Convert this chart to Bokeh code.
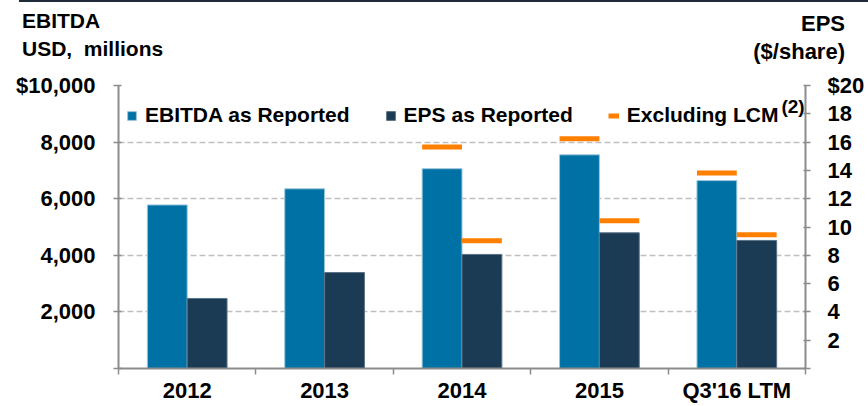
import numpy as np
from bokeh.plotting import figure
from bokeh.layouts import column
from bokeh.models import (Range1d, LinearAxis, FixedTicker, Legend, LegendItem,
                          Label, ColumnDataSource, Div)
from bokeh.transform import dodge
from bokeh.embed import file_html
from bokeh.resources import INLINE

# ---------------- data ----------------
categories = ["2012", "2013", "2014", "2015", "Q3'16 LTM"]
ebitda_reported = [5780, 6350, 7060, 7550, 6640]          # USD millions
ebitda_ex_lcm = [None, None, 7830, 8120, 6910]            # USD millions
eps_reported = [4.95, 6.78, 8.06, 9.59, 9.05]             # $/share
eps_ex_lcm = [None, None, 9.02, 10.44, 9.45]              # $/share

left_ticks = [0, 2000, 4000, 6000, 8000, 10000]
left_tick_labels = ["", "2,000", "4,000", "6,000", "8,000", "$10,000"]
right_ticks = [0, 2, 4, 6, 8, 10, 12, 14, 16, 18, 20]
right_tick_labels = ["", "2", "4", "6", "8", "10", "12", "14", "16", "18", "$20"]

series_names = ["EBITDA as Reported", "EPS as Reported", "Excluding LCM"]
footnote = "(2)"
left_title = ["EBITDA", "USD,  millions"]
right_title = ["EPS", "($/share)"]

# ---------------- style ----------------
FONT = "Liberation Sans"
C_EBITDA = "#0071A4"
C_EPS = "#1B3A53"
C_ORANGE = "#FF7F00"
C_AXIS = "#8C8C8C"
C_GRID = "#C0C0C0"
W = 868
HEAD_H = 70
MAIN_H = 406 - HEAD_H

# ---------------- header (titles) ----------------
def t(txt, top, size, side, pos):
    return (f'<div style="position:absolute;{side}:{pos}px;top:{top}px;'
            f'font-size:{size}px;line-height:{size}px;white-space:pre;">{txt}</div>')

head_html = (
    f'<div style="position:relative;width:{W}px;height:{HEAD_H}px;'
    f'font-family:\'{FONT}\';font-weight:bold;color:#000;overflow:hidden;">'
    f'<div style="position:absolute;left:19px;right:0;top:0;height:2px;background:#1F2B38;"></div>'
    + t(left_title[0], 10, 21, "left", 22)
    + t(left_title[1], 38, 21, "left", 22)
    + t(right_title[0], 13, 22, "right", 23)
    + t(right_title[1], 41, 22, "right", 23)
    + '</div>'
)
head = Div(text=head_html, width=W, height=HEAD_H, margin=0)

# ---------------- main chart ----------------
src = ColumnDataSource(dict(
    xc=[i + 0.5 for i in range(len(categories))],
    cat=categories,
    ebitda=ebitda_reported,
    ebitda_ex=np.array(ebitda_ex_lcm, dtype=float),
    eps=eps_reported,
    eps_ex=np.array(eps_ex_lcm, dtype=float),
))

p = figure(width=W, height=MAIN_H, output_backend="svg", toolbar_location=None,
           x_range=Range1d(0, len(categories)), y_range=Range1d(0, 10000),
           min_border_left=118, min_border_right=63, min_border_top=15,
           min_border_bottom=38, margin=0)
p.outline_line_color = None
p.background_fill_color = "white"
p.border_fill_color = "white"
p.extra_y_ranges = {"eps": Range1d(0, 20)}

# grid
p.xgrid.visible = False
p.ygrid.ticker = FixedTicker(ticks=left_ticks[1:])
p.ygrid.grid_line_color = C_GRID
p.ygrid.grid_line_dash = "6 3"
p.ygrid.grid_line_width = 1.5

# x axis: labels at category centres, ticks at category boundaries
xa = p.xaxis[0]
centres = [i + 0.5 for i in range(len(categories))]
xa.ticker = FixedTicker(ticks=centres, minor_ticks=list(range(len(categories) + 1)))
xa.major_label_overrides = {c: s for c, s in zip(centres, categories)}
xa.major_label_text_font = FONT
xa.major_label_text_font_size = "22px"
xa.major_label_text_font_style = "bold"
xa.major_label_text_color = "black"
xa.major_label_standoff = 3
xa.major_tick_out = 0
xa.major_tick_in = 0
xa.major_tick_line_color = None
xa.minor_tick_out = 6
xa.minor_tick_in = 0
xa.minor_tick_line_color = C_AXIS
xa.minor_tick_line_width = 1.5
xa.axis_line_color = C_AXIS
xa.axis_line_width = 2

# left axis
ya = p.yaxis[0]
ya.ticker = FixedTicker(ticks=left_ticks)
ya.major_label_overrides = {t_: s for t_, s in zip(left_ticks, left_tick_labels)}
ya.major_label_text_font = FONT
ya.major_label_text_font_size = "22px"
ya.major_label_text_font_style = "bold"
ya.major_label_text_color = "black"
ya.major_label_standoff = 18
ya.major_tick_out = 5
ya.major_tick_in = 3
ya.minor_tick_line_color = None
ya.axis_line_color = C_AXIS
ya.axis_line_width = 2
ya.major_tick_line_color = C_AXIS
ya.major_tick_line_width = 1.5

# right axis
ra = LinearAxis(y_range_name="eps")
ra.ticker = FixedTicker(ticks=right_ticks)
ra.major_label_overrides = {t_: s for t_, s in zip(right_ticks, right_tick_labels)}
ra.major_label_text_font = FONT
ra.major_label_text_font_size = "22px"
ra.major_label_text_font_style = "bold"
ra.major_label_text_color = "black"
ra.major_label_standoff = 17
ra.major_tick_out = 5
ra.major_tick_in = 2
ra.minor_tick_line_color = None
ra.axis_line_color = C_AXIS
ra.axis_line_width = 2
ra.major_tick_line_color = C_AXIS
ra.major_tick_line_width = 1.5
p.add_layout(ra, "right")

# bars
BW = 0.29
r_ebitda = p.vbar(x=dodge("xc", -BW / 2), top="ebitda", width=BW, source=src,
                  fill_color=C_EBITDA, line_color="#9CC6DC", line_width=1)
r_eps = p.vbar(x=dodge("xc", BW / 2), top="eps", width=BW, source=src,
               y_range_name="eps", fill_color=C_EPS, line_color="#5A7286", line_width=1)

# excluding-LCM markers
r_ex = p.segment(x0=dodge("xc", -BW), x1=dodge("xc", 0), y0="ebitda_ex", y1="ebitda_ex",
                 source=src, line_color=C_ORANGE, line_width=5)
p.segment(x0=dodge("xc", 0), x1=dodge("xc", BW), y0="eps_ex", y1="eps_ex",
          source=src, line_color=C_ORANGE, line_width=5, y_range_name="eps")

legend = Legend(items=[LegendItem(label=series_names[0], renderers=[r_ebitda]),
                       LegendItem(label=series_names[1], renderers=[r_eps]),
                       LegendItem(label=series_names[2], renderers=[r_ex])],
                orientation="horizontal", location=(8, 241),
                glyph_width=11, glyph_height=11, label_standoff=8, spacing=35,
                padding=0, margin=0, border_line_color=None,
                background_fill_alpha=0,
                label_text_font=FONT, label_text_font_size="21px",
                label_text_font_style="bold", label_text_color="black")
p.add_layout(legend, "center")

# superscript footnote marker after the last legend label
p.add_layout(Label(x=4.825, y=9258, text=footnote, text_font=FONT, text_font_size="19px",
                   text_font_style="bold", text_color="black", text_baseline="middle"))

open("out.html", "w").write(file_html(column(head, p, spacing=0), INLINE))
